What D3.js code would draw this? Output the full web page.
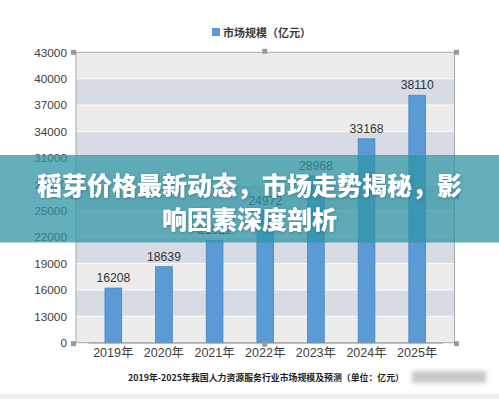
<!DOCTYPE html>
<html>
<head>
<meta charset="utf-8">
<script src="https://cdn.jsdelivr.net/npm/d3@7"></script>
<style>
  html, body { margin: 0; padding: 0; background: #ffffff; }
  svg { display: block; }
</style>
</head>
<body>
<svg id="chart" width="499" height="399"></svg>
<script>
// ---- data ----
const categories = ["2019年", "2020年", "2021年", "2022年", "2023年", "2024年", "2025年"];
const marketSize = [16208, 18639, 21621, 24972, 28968, 33168, 38110];
const yTickValues = [10000, 13000, 16000, 19000, 22000, 25000, 28000, 31000, 34000, 37000, 40000, 43000];
const yTickLabels = ["0", "13000", "16000", "19000", "22000", "25000", "28000", "31000", "34000", "37000", "40000", "43000"];
const legendLabel = "市场规模（亿元）";
const captionText = "2019年-2025年我国人力资源服务行业市场规模及预测（单位：亿元）";
const titleLines = ["稻芽价格最新动态，市场走势揭秘，影", "响因素深度剖析"];

const svg = d3.select("#chart");
const W = 499, H = 399;
const plot = { left: 76, right: 454.5, top: 52.3, bottom: 342.7 };

const y = d3.scaleLinear().domain([yTickValues[0], yTickValues[yTickValues.length - 1]]).range([plot.bottom, plot.top]);
const x = d3.scaleBand().domain(categories).range([88, 442.5]).paddingInner(0.67).paddingOuter(0.335);

const defs = svg.append("defs");
const blur = defs.append("filter").attr("id", "blur").attr("x", "-20%").attr("y", "-50%").attr("width", "140%").attr("height", "200%");
blur.append("feGaussianBlur").attr("stdDeviation", 2.2);
const shadow = defs.append("filter").attr("id", "shadow").attr("x", "-5%").attr("y", "-20%").attr("width", "110%").attr("height", "140%");
shadow.append("feDropShadow").attr("dx", 0.6).attr("dy", 0.8).attr("stdDeviation", 0.8).attr("flood-color", "#1f5560").attr("flood-opacity", 0.55);

// background bands
const bands = d3.range(yTickValues.length - 1).map(i => ({ lo: yTickValues[i], hi: yTickValues[i + 1], i }));
const nb = bands.length;
svg.append("g").selectAll("rect").data(bands).join("rect")
  .attr("x", plot.left)
  .attr("width", plot.right - plot.left)
  .attr("y", d => y(d.hi))
  .attr("height", d => y(d.lo) - y(d.hi))
  .attr("fill", d => ((nb - 1 - d.i) % 2 === 0) ? "#ececec" : "#d6dbe4");

// white gridlines
svg.append("g").selectAll("line").data(yTickValues.slice(1, -1)).join("line")
  .attr("x1", plot.left).attr("x2", plot.right)
  .attr("y1", d => y(d)).attr("y2", d => y(d))
  .attr("stroke", "#fafafa").attr("stroke-width", 1.2);

// frame
svg.append("rect")
  .attr("x", plot.left).attr("y", plot.top)
  .attr("width", plot.right - plot.left).attr("height", plot.bottom - plot.top)
  .attr("fill", "none").attr("stroke", "#a9a9a9").attr("stroke-width", 1);

// bars
svg.append("g").selectAll("rect").data(marketSize).join("rect")
  .attr("x", (d, i) => x(categories[i]))
  .attr("width", x.bandwidth())
  .attr("y", d => y(d))
  .attr("height", d => y(yTickValues[0]) - y(d))
  .attr("fill", "#5b9bd5")
  .attr("stroke", "#4a85bd")
  .attr("stroke-width", 0.8);

// value labels
svg.append("g").selectAll("text").data(marketSize).join("text")
  .attr("x", (d, i) => x(categories[i]) + x.bandwidth() / 2)
  .attr("y", d => y(d) - 6)
  .attr("text-anchor", "middle")
  .attr("font-family", "Liberation Sans, Arial, sans-serif")
  .attr("font-size", 12.2)
  .attr("fill", "#333")
  .text(d => d);

// y axis
const yAxis = d3.axisLeft(y).tickValues(yTickValues).tickSize(0).tickPadding(9)
  .tickFormat((d, i) => yTickLabels[i]);
const gy = svg.append("g").attr("transform", `translate(${plot.left},0)`).call(yAxis);
gy.select(".domain").remove();
gy.selectAll("text")
  .attr("font-family", "Liberation Sans, Arial, sans-serif")
  .attr("font-size", 11.8)
  .attr("fill", "#404040");

// x axis
const xAxis = d3.axisBottom(x).tickSize(0).tickPadding(5);
const gx = svg.append("g").attr("transform", `translate(0,${plot.bottom})`).call(xAxis);
gx.select(".domain").attr("stroke", "#a9a9a9");
gx.selectAll("text")
  .attr("font-family", "Liberation Sans, 'Noto Sans CJK SC', sans-serif")
  .attr("font-size", 12.5)
  .attr("fill", "#404040");

// selection handles
const midX = (plot.left + plot.right) / 2 - 0.5;
const midY = (plot.top + plot.bottom) / 2;
const handles = [
  [plot.left - 2.5, plot.top], [midX, plot.top - 1], [plot.right + 2, plot.top],
  [plot.left - 2.5, midY - 1], [plot.right + 2, midY - 1],
  [plot.left - 2.5, plot.bottom + 1], [midX, plot.bottom + 1.5], [plot.right + 2, plot.bottom + 1]
];
svg.append("g").selectAll("rect").data(handles).join("rect")
  .attr("x", d => d[0] - 2.5).attr("y", d => d[1] - 2.5)
  .attr("width", 5).attr("height", 5)
  .attr("fill", "#9a9a9a");

// legend
const lg = svg.append("g");
lg.append("rect").attr("x", 212).attr("y", 28).attr("width", 8).attr("height", 8).attr("fill", "#5b9bd5");
lg.append("text").attr("x", 223).attr("y", 32).attr("dominant-baseline", "central")
  .attr("font-family", "'Noto Sans CJK SC', sans-serif")
  .attr("font-size", 11).attr("font-weight", 700).attr("fill", "#3a3a3a")
  .text(legendLabel);

// caption
svg.append("text").attr("x", 128).attr("y", 377).attr("dominant-baseline", "central")
  .attr("font-family", "'Noto Sans CJK SC', sans-serif")
  .attr("font-size", 8.9).attr("font-weight", 700).attr("fill", "#1e1e1e")
  .text(captionText);

// blurred watermark
svg.append("rect").attr("x", 412).attr("y", 371).attr("width", 74).attr("height", 12)
  .attr("fill", "#c8c8c8").attr("filter", "url(#blur)");

// bottom separator
svg.append("rect").attr("x", 0).attr("y", 394).attr("width", W).attr("height", 5).attr("fill", "#efefef");

// title banner
svg.append("rect").attr("x", 0).attr("y", 155).attr("width", W).attr("height", 87.5)
  .attr("fill", "rgb(47,148,165)").attr("fill-opacity", 0.75);

svg.append("g").selectAll("text").data(titleLines).join("text")
  .attr("x", W / 2)
  .attr("y", (d, i) => 184 + i * 34)
  .attr("text-anchor", "middle")
  .attr("dominant-baseline", "central")
  .attr("font-family", "'Noto Sans CJK SC', sans-serif")
  .attr("font-size", 25).attr("font-weight", 900)
  .attr("fill", "#ffffff")
  .attr("filter", "url(#shadow)")
  .text(d => d);
</script>
</body>
</html>
